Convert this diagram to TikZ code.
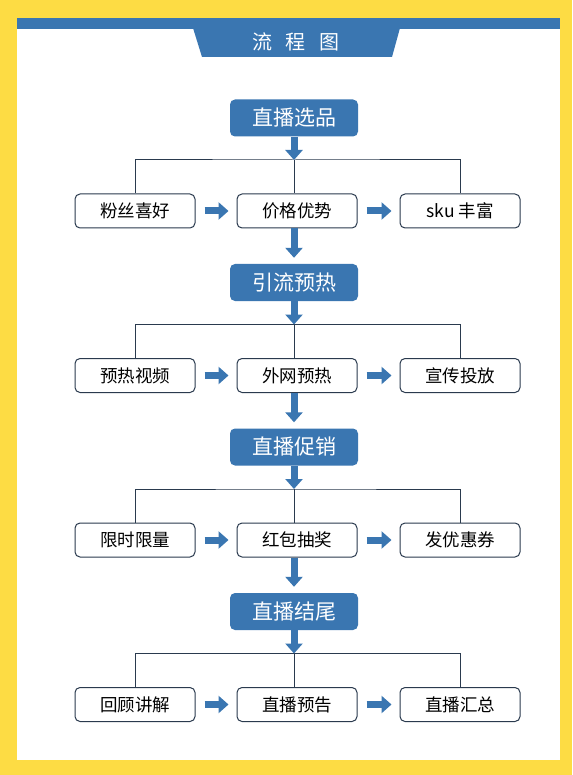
\documentclass[tikz,border=0pt]{standalone}
\usepackage{fontspec}
\newfontfamily\cjk{Noto Sans CJK SC}
\usetikzlibrary{arrows.meta}

\definecolor{flowblue}{HTML}{3A76B1}
\definecolor{pageyellow}{HTML}{FDDC44}
\definecolor{boxline}{HTML}{2A3A4E}

\tikzset{
  headbox/.style={fill=flowblue, rounded corners=5pt, minimum width=128pt,
    minimum height=37pt, text=white, font=\cjk\fontsize{21}{21}\selectfont},
  itembox/.style={draw=boxline, line width=1pt, fill=white, rounded corners=5pt,
    minimum width=120pt, minimum height=34pt, font=\cjk\fontsize{17.5}{17.5}\selectfont},
  tree/.style={draw=boxline, line width=1pt},
  fatarrow/.style={draw=flowblue, line width=7pt,
    -{Triangle[length=10pt,width=17pt]}}
}

\begin{document}
\begin{tikzpicture}[x=1pt,y=-1pt]
% page and panel
\fill [pageyellow] (0,0) rectangle (572,775);
\fill [white] (17,19) rectangle (560,760);
\fill [flowblue] (17,18) rectangle (560,29);
\fill [flowblue] (193,28) -- (400,28) -- (392,57) -- (202,57) -- cycle;
\node [text=white, font=\cjk\fontsize{20}{20}\selectfont] (title) at (296,42)
  {流\hspace{0.7em}程\hspace{0.7em}图};

\foreach \head/\one/\two/\three [count=\i] in
  {直播选品/粉丝喜好/价格优势/sku 丰富,
   引流预热/预热视频/外网预热/宣传投放,
   直播促销/限时限量/红包抽奖/发优惠券,
   直播结尾/回顾讲解/直播预告/直播汇总}{
  \pgfmathsetmacro\y{118+(\i-1)*164.5}
  \node [headbox] (h\i) at (294,\y) {\head};
  \coordinate (j\i) at (294,\y+42);
  \node [itembox] (a\i) at (135,\y+93) {\one};
  \node [itembox] (b\i) at (297,\y+93) {\two};
  \node [itembox] (c\i) at (460,\y+93) {\three};
  \draw [tree] (a\i.north) |- (j\i) -| (c\i.north);
  \draw [tree] (j\i) -- (j\i |- b\i.north);
  \draw [fatarrow] (h\i.south) -- (j\i);
  \draw [fatarrow, shorten <=9pt, shorten >=8pt] (a\i) -- (b\i);
  \draw [fatarrow, shorten <=9pt, shorten >=8pt] (b\i) -- (c\i);
}

\foreach \i [evaluate=\i as \j using int(\i+1)] in {1,2,3}
  \draw [fatarrow, shorten >=6pt] (h\i |- b\i.south) -- (h\j.north);

\end{tikzpicture}
\end{document}
